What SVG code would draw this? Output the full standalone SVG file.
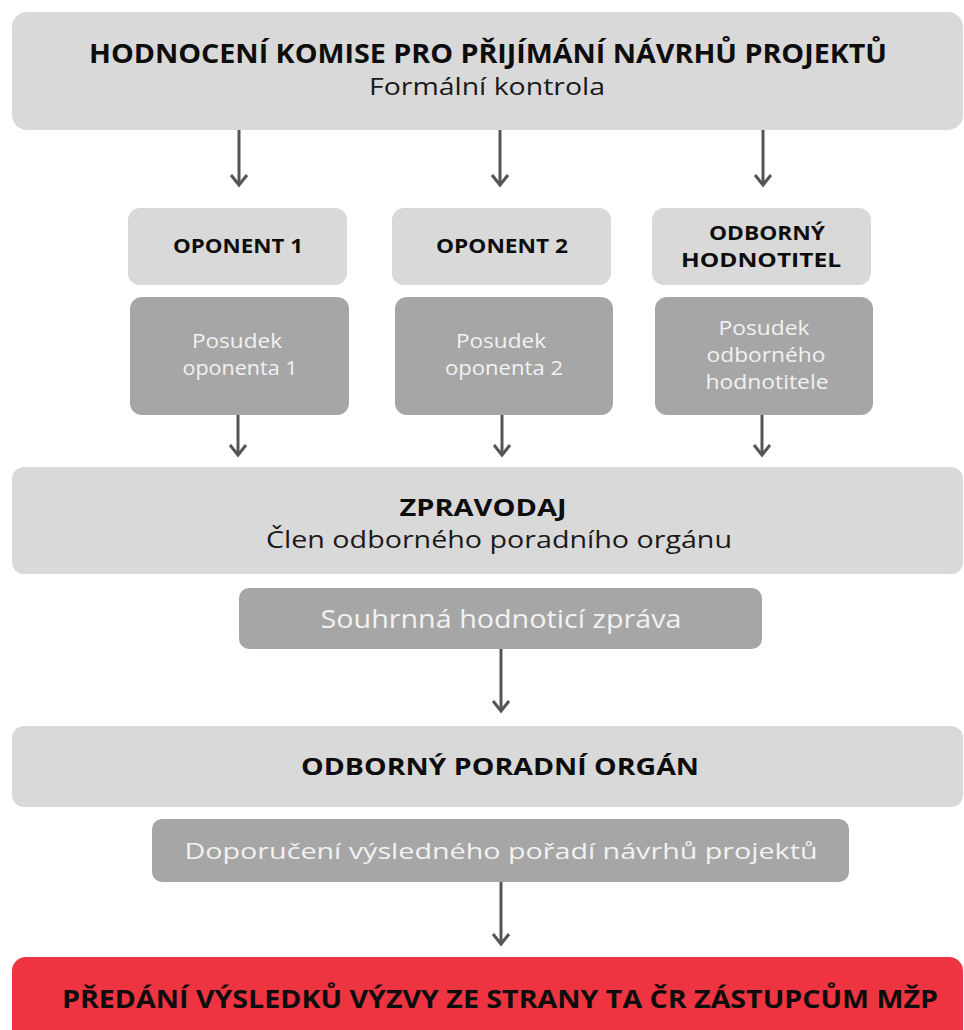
<svg xmlns="http://www.w3.org/2000/svg" width="964" height="1030" viewBox="0 0 964 1030">
<defs>
<style>
.light{fill:#d9d9d9}
.mid{fill:#a6a6a6}
.red{fill:#ee3440}
.t{font-family:"Open Sans","Noto Sans","DejaVu Sans",sans-serif;text-anchor:middle}
.b{font-weight:700;fill:#0d0d0d}
.r{font-weight:400;fill:#1a1a1a}
.w{font-weight:400;fill:#f2f2f2}
.conn line{stroke:#555555;stroke-width:3;fill:none;marker-end:url(#chev)}
</style>
<marker id="chev" markerUnits="userSpaceOnUse" orient="auto" refX="0" refY="0" markerWidth="24" markerHeight="24" viewBox="-12 -12 24 24" overflow="visible">
<path d="M-10,-8 L0,0 L-10,8" fill="none" stroke="#555555" stroke-width="3" stroke-linecap="butt" stroke-linejoin="miter"/>
</marker>
</defs>
<rect width="964" height="1030" fill="#ffffff"/>

<g id="komise">
<rect class="light" x="12" y="12" width="951" height="118" rx="15"/>
<text class="t b" x="488" y="63" font-size="26" textLength="798" lengthAdjust="spacingAndGlyphs">HODNOCENÍ KOMISE PRO PŘIJÍMÁNÍ NÁVRHŮ PROJEKTŮ</text>
<text class="t r" x="487" y="94.5" font-size="23.5" textLength="236" lengthAdjust="spacingAndGlyphs">Formální kontrola</text>
</g>

<g id="oponent1">
<rect class="light" x="128" y="208" width="219" height="77" rx="12"/>
<text class="t b" x="238" y="253" font-size="20" textLength="130" lengthAdjust="spacingAndGlyphs">OPONENT 1</text>
</g>
<g id="oponent2">
<rect class="light" x="392" y="208" width="219" height="77" rx="12"/>
<text class="t b" x="502" y="253" font-size="20" textLength="132" lengthAdjust="spacingAndGlyphs">OPONENT 2</text>
</g>
<g id="hodnotitel">
<rect class="light" x="652" y="208" width="219" height="77" rx="12"/>
<text class="t b" x="767" y="240" font-size="20" textLength="116" lengthAdjust="spacingAndGlyphs">ODBORNÝ</text>
<text class="t b" x="761" y="267" font-size="20" textLength="160" lengthAdjust="spacingAndGlyphs">HODNOTITEL</text>
</g>

<g id="posudek1">
<rect class="mid" x="130" y="297" width="219" height="118" rx="12"/>
<text class="t w" x="237" y="347.5" font-size="20" textLength="90" lengthAdjust="spacingAndGlyphs">Posudek</text>
<text class="t w" x="240" y="375" font-size="20" textLength="115" lengthAdjust="spacingAndGlyphs">oponenta 1</text>
</g>
<g id="posudek2">
<rect class="mid" x="395" y="297" width="218" height="118" rx="12"/>
<text class="t w" x="501" y="347.5" font-size="20" textLength="90" lengthAdjust="spacingAndGlyphs">Posudek</text>
<text class="t w" x="504" y="375" font-size="20" textLength="118" lengthAdjust="spacingAndGlyphs">oponenta 2</text>
</g>
<g id="posudek3">
<rect class="mid" x="655" y="297" width="218" height="118" rx="12"/>
<text class="t w" x="764" y="335" font-size="20" textLength="91" lengthAdjust="spacingAndGlyphs">Posudek</text>
<text class="t w" x="766" y="362" font-size="20" textLength="119" lengthAdjust="spacingAndGlyphs">odborného</text>
<text class="t w" x="767" y="389" font-size="20" textLength="123" lengthAdjust="spacingAndGlyphs">hodnotitele</text>
</g>

<g id="zpravodaj">
<rect class="light" x="12" y="467" width="951" height="107" rx="12"/>
<text class="t b" x="483" y="516" font-size="24" textLength="167" lengthAdjust="spacingAndGlyphs">ZPRAVODAJ</text>
<text class="t r" x="499" y="548" font-size="23.5" textLength="466" lengthAdjust="spacingAndGlyphs">Člen odborného poradního orgánu</text>
</g>

<g id="souhrnna">
<rect class="mid" x="239" y="588" width="523" height="61" rx="10"/>
<text class="t w" x="501" y="627.5" font-size="25" textLength="361" lengthAdjust="spacingAndGlyphs">Souhrnná hodnoticí zpráva</text>
</g>

<g id="organ">
<rect class="light" x="12" y="726" width="951" height="81" rx="12"/>
<text class="t b" x="500" y="775" font-size="24" textLength="398" lengthAdjust="spacingAndGlyphs">ODBORNÝ PORADNÍ ORGÁN</text>
</g>

<g id="doporuceni">
<rect class="mid" x="152" y="819" width="697" height="63" rx="10"/>
<text class="t w" x="501" y="858.5" font-size="22" textLength="633" lengthAdjust="spacingAndGlyphs">Doporučení výsledného pořadí návrhů projektů</text>
</g>

<g id="predani">
<rect class="red" x="12" y="957" width="951" height="90" rx="14"/>
<text class="t b" x="500" y="1008" font-size="25" textLength="876" lengthAdjust="spacingAndGlyphs">PŘEDÁNÍ VÝSLEDKŮ VÝZVY ZE STRANY TA ČR ZÁSTUPCŮM MŽP</text>
</g>

<g id="connectors" class="conn">
<line x1="239" y1="130" x2="239" y2="185"/>
<line x1="500" y1="130" x2="500" y2="185"/>
<line x1="763" y1="130" x2="763" y2="185"/>
<line x1="238" y1="415" x2="238" y2="455"/>
<line x1="502" y1="415" x2="502" y2="455"/>
<line x1="762" y1="415" x2="762" y2="455"/>
<line x1="501" y1="649" x2="501" y2="711"/>
<line x1="501" y1="882" x2="501" y2="944"/>
</g>
</svg>
